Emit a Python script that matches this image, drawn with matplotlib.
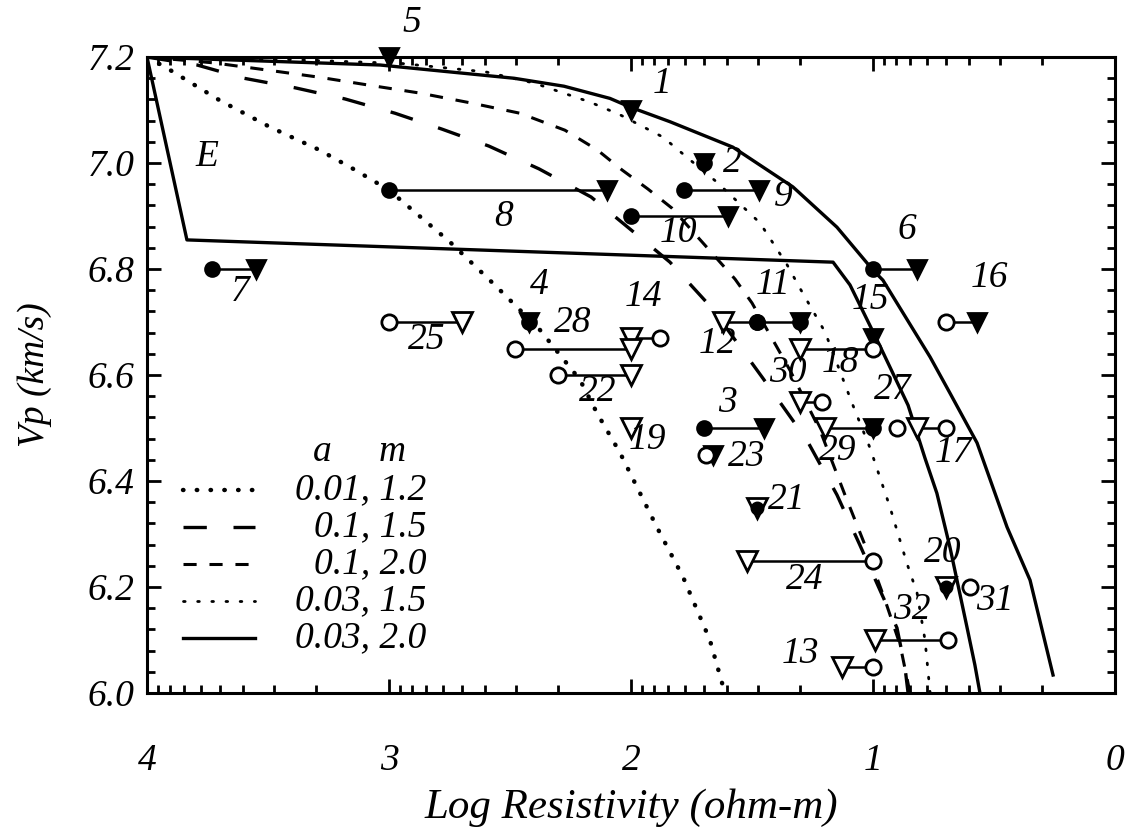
"""Vp against log resistivity: mixing-model curves, field E and site measurements."""
import numpy as np
import matplotlib.pyplot as plt
from matplotlib.ticker import FixedLocator, MultipleLocator, FormatStrFormatter

plt.rcParams["font.family"] = ["Liberation Serif", "DejaVu Serif"]
plt.rcParams["font.style"] = "italic"

FS = 27

# model curves (log resistivity, Vp) for each (a, m) pair
curve_a001_m12_x = [4.0, 3.917, 3.702, 3.492, 3.289, 3.140, 3.0, 2.748, 2.554, 2.376,
                    2.211, 2.140, 2.045, 1.893, 1.785, 1.674, 1.612]
curve_a001_m12_y = [7.2, 7.179, 7.119, 7.068, 7.025, 6.987, 6.949, 6.851, 6.766, 6.685,
                    6.591, 6.528, 6.453, 6.313, 6.219, 6.100, 6.0]

curve_a01_m15_x = [4.0, 3.793, 3.599, 3.388, 3.182, 2.975, 2.781, 2.587, 2.380, 2.165,
                   2.008, 1.839, 1.665, 1.455, 1.273, 1.149, 1.054, 0.971, 0.901, 0.868, 0.855]
curve_a01_m15_y = [7.2, 7.185, 7.160, 7.142, 7.121, 7.094, 7.064, 7.032, 6.989, 6.936,
                   6.877, 6.813, 6.726, 6.594, 6.477, 6.374, 6.279, 6.194, 6.123, 6.049, 6.0]

curve_a01_m20_x = [4.0, 3.723, 3.496, 3.289, 3.083, 2.872, 2.657, 2.459, 2.273, 2.140,
                   2.037, 1.930, 1.831, 1.665, 1.570, 1.500, 1.343, 1.219, 1.116, 1.033,
                   0.950, 0.888, 0.847]
curve_a01_m20_y = [7.2, 7.189, 7.175, 7.162, 7.147, 7.132, 7.113, 7.094, 7.062, 7.025,
                   6.987, 6.951, 6.915, 6.830, 6.781, 6.736, 6.609, 6.496, 6.374, 6.279,
                   6.175, 6.091, 6.0]

curve_a003_m15_x = [4.0, 3.4, 2.95, 2.6, 2.401, 2.169, 2.045, 1.868, 1.764, 1.645, 1.467,
                    1.355, 1.302, 1.198, 1.083, 1.012, 0.930, 0.860, 0.818, 0.785, 0.764]
curve_a003_m15_y = [7.2, 7.195, 7.188, 7.172, 7.151, 7.115, 7.091, 7.049, 7.009, 6.964, 6.887,
                    6.808, 6.764, 6.681, 6.543, 6.462, 6.351, 6.245, 6.189, 6.1, 6.0]

curve_a003_m20_x = [4.0, 3.037, 2.483, 2.277, 2.087, 2.0, 1.839, 1.579, 1.331, 1.149, 1.0,
                    0.959, 0.764, 0.682, 0.570, 0.446, 0.351, 0.256]
curve_a003_m20_y = [7.2, 7.185, 7.160, 7.145, 7.122, 7.105, 7.078, 7.030, 6.955, 6.879, 6.798,
                    6.779, 6.634, 6.566, 6.472, 6.313, 6.213, 6.034]

# outline of field E
field_e_x = [4.0, 3.835, 1.165, 1.095, 0.983, 0.855, 0.785, 0.736, 0.682, 0.653, 0.612,
             0.579, 0.558]
field_e_y = [7.2, 6.855, 6.813, 6.770, 6.666, 6.543, 6.443, 6.377, 6.275, 6.213, 6.125,
             6.053, 6.0]

legend_labels = ["0.01, 1.2", "0.1, 1.5", "0.1, 2.0", "0.03, 1.5", "0.03, 2.0"]

# site measurements: one or two log-resistivity values at a given Vp
site_ids = ["1", "2", "3", "4", "5", "6", "7", "8", "9", "10", "11", "12", "13", "14",
            "15", "16", "17", "18", "19", "20", "21", "22", "23", "24", "25", "27", "28",
            "29", "30", "31", "32"]
site_vp = [7.10, 7.00, 6.50, 6.70, 7.20, 6.80, 6.80, 6.95, 6.95, 6.90, 6.70, 6.70, 6.05,
           6.67, 6.67, 6.70, 6.50, 6.65, 6.50, 6.20, 6.35, 6.60, 6.45, 6.25, 6.70, 6.50,
           6.65, 6.50, 6.55, 6.20, 6.10]
rho_a = [2.00, 1.70, 1.70, 2.42, 3.00, 1.00, 3.73, 3.00, 1.78, 2.00, 1.48, 1.62, 1.13,
         2.00, 1.00, 0.70, 0.82, 1.30, 2.00, 0.70, 1.48, 2.30, 1.69, 1.52, 3.00, 0.90,
         2.48, 1.20, 1.30, 0.60, 0.99]
rho_b = [np.nan, np.nan, 1.45, np.nan, np.nan, 0.82, 3.55, 2.10, 1.47, 1.60, 1.30, 1.48,
         1.00, 1.88, np.nan, 0.57, 0.70, 1.00, np.nan, np.nan, np.nan, 2.00, 1.66, 1.00,
         2.70, np.nan, 2.00, 1.00, 1.21, np.nan, 0.69]
marker_a = ["ft", "ftc", "fc", "ftc", "ft", "fc", "fc", "fc", "fc", "fc", "fc", "ot", "ot",
            "ot", "ft", "oc", "ot", "ot", "ot", "otc", "otc", "oc", "oc", "ot", "oc", "oc",
            "oc", "ot", "ot", "oc", "ot"]
marker_b = ["", "", "ft", "", "", "ft", "ft", "ft", "ft", "ft", "ftc", "fc", "oc", "oc",
            "", "ft", "oc", "oc", "", "", "", "ot", "ft", "oc", "ot", "", "ot", "ftc", "oc",
            "", "oc"]
label_x = [1.87, 1.58, 1.60, 2.38, 2.905, 0.86, 3.616, 2.525, 1.372, 1.806, 1.413, 1.645,
           1.302, 1.95, 1.012, 0.517, 0.669, 1.136, 1.934, 0.711, 1.355, 2.136, 1.521,
           1.281, 2.843, 0.917, 2.24, 1.145, 1.351, 0.496, 0.839]
label_y = [7.15, 7.00, 6.547, 6.77, 7.265, 6.874, 6.757, 6.898, 6.936, 6.868, 6.770, 6.660,
           6.075, 6.747, 6.742, 6.783, 6.453, 6.623, 6.477, 6.264, 6.364, 6.568, 6.445,
           6.213, 6.666, 6.572, 6.698, 6.458, 6.604, 6.175, 6.157]

CURVE_STYLES = [
    dict(lw=3.2, linestyle=(0, (0.1, 3.0)), dash_capstyle="round"),
    dict(lw=2.4, linestyle=(0, (7.0, 8.0)), dash_capstyle="butt"),
    dict(lw=2.2, linestyle=(0, (4.3, 4.2)), dash_capstyle="butt"),
    dict(lw=2.0, linestyle=(0, (0.6, 4.5)), dash_capstyle="round"),
    dict(lw=2.4, linestyle="-"),
]

MARKERS = {
    "fc": [("o", 10, "k")],
    "ft": [("v", 13, "k")],
    "oc": [("o", 11, "white")],
    "ot": [("v", 14, "white")],
    "ftc": [("o", 10, "k"), ("v", 13, "k")],
    "otc": [("v", 14, "white"), ("o", 8, "k")],
}


def draw_marker(ax, x, y, kind):
    for m, ms, fc in MARKERS[kind]:
        ax.plot(x, y, marker=m, ms=ms, mfc=fc, mec="k", mew=2.0, ls="none",
                zorder=4, clip_on=False)


def main():
    fig = plt.figure(figsize=(11.29, 8.33), dpi=100)
    ax = fig.add_axes([0.1302, 0.168, 0.8574, 0.7635])

    curves = [(curve_a001_m12_x, curve_a001_m12_y), (curve_a01_m15_x, curve_a01_m15_y),
              (curve_a01_m20_x, curve_a01_m20_y), (curve_a003_m15_x, curve_a003_m15_y),
              (curve_a003_m20_x, curve_a003_m20_y)]
    for (cx, cy), style in zip(curves, CURVE_STYLES):
        ax.plot(cx, cy, color="k", zorder=2, **style)
    ax.plot(field_e_x, field_e_y, color="k", lw=2.4, zorder=2)
    ax.text(3.752, 7.011, "E", fontsize=FS, ha="center", va="center")

    for sid, vp, xa, xb, ma, mb, lx, ly in zip(site_ids, site_vp, rho_a, rho_b,
                                               marker_a, marker_b, label_x, label_y):
        if not np.isnan(xb):
            ax.plot([xa, xb], [vp, vp], color="k", lw=1.8, zorder=3)
            draw_marker(ax, xb, vp, mb)
        draw_marker(ax, xa, vp, ma)
        ax.text(lx, ly, sid, fontsize=FS, ha="center", va="center", zorder=5)

    # legend drawn by hand: header, line samples and right-aligned labels
    ax.text(0.181, 0.380, "a", transform=ax.transAxes, fontsize=FS, ha="center", va="center")
    ax.text(0.253, 0.380, "m", transform=ax.transAxes, fontsize=FS, ha="center", va="center")
    for i, (lab, style) in enumerate(zip(legend_labels, CURVE_STYLES)):
        yy = 0.319 - i * 0.0582
        ax.plot([0.037, 0.112], [yy, yy], transform=ax.transAxes, color="k", **style)
        ax.text(0.289, yy, lab, transform=ax.transAxes, fontsize=FS, ha="right", va="center")

    ax.set_xlim(4, 0)
    ax.set_ylim(6.0, 7.2)
    ax.xaxis.set_major_locator(FixedLocator([4, 3, 2, 1, 0]))
    ax.xaxis.set_minor_locator(FixedLocator(
        [d + np.log10(k) for d in range(4) for k in range(2, 10)]))
    ax.yaxis.set_major_locator(MultipleLocator(0.2))
    ax.yaxis.set_minor_locator(MultipleLocator(0.04))
    ax.yaxis.set_major_formatter(FormatStrFormatter("%.1f"))
    ax.xaxis.set_major_formatter(FormatStrFormatter("%d"))

    ax.tick_params(which="both", direction="in", top=True, right=True, width=2.0)
    ax.tick_params(which="major", length=10, labelsize=FS)
    ax.tick_params(which="minor", length=5.5)
    ax.tick_params(axis="x", which="major", pad=36)
    ax.tick_params(axis="y", which="major", pad=9)
    for sp in ax.spines.values():
        sp.set_linewidth(2.2)

    ax.set_xlabel("Log Resistivity (ohm-m)", fontsize=31, labelpad=8)
    ax.set_ylabel("Vp (km/s)", fontsize=FS, labelpad=26)

    fig.savefig("out.png", dpi=100)


if __name__ == "__main__":
    main()
